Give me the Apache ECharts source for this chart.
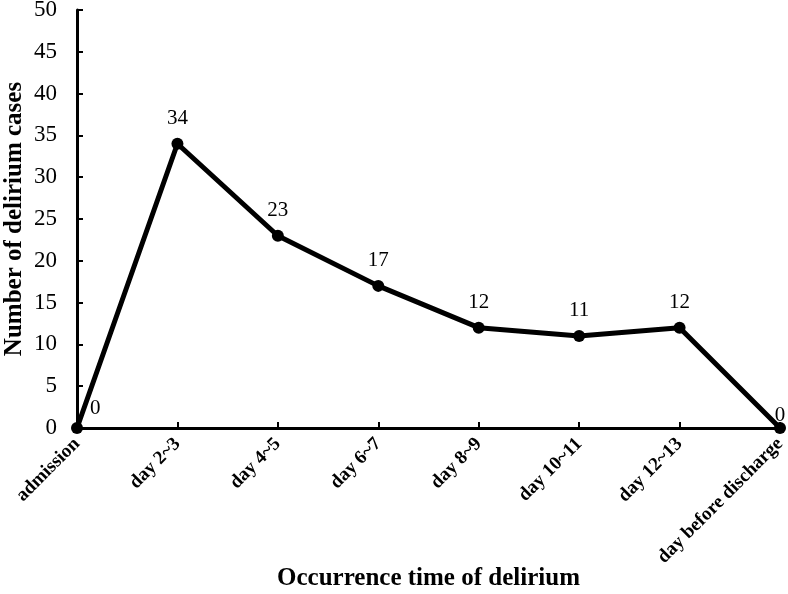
<!DOCTYPE html>
<html><head><meta charset="utf-8">
<script src="https://cdn.jsdelivr.net/npm/echarts@6/dist/echarts.min.js"></script>
<style>html,body{margin:0;padding:0;background:#fff}#c{width:788px;height:594px}</style>
</head><body><div id="c"></div>
<script>
const categories = ['admission','day 2~3','day 4~5','day 6~7','day 8~9','day 10~11','day 12~13','day before discharge'];
const cases = [0,34,23,17,12,11,12,0];
const yTicks = {min:0, max:50, interval:5};
const FONT = '"Liberation Serif","Times New Roman",serif';

const data = cases.map((v,i)=>{
  const d = {value:v};
  if (i===0) d.label = {position:'right', offset:[-2,-20]};
  if (i===cases.length-1) d.label = {offset:[0,13]};
  return d;
});

const chart = echarts.init(document.getElementById('c'));
chart.setOption({
  animation:false,
  backgroundColor:'#fff',
  grid:{left:77,right:8,top:10,bottom:166,containLabel:false,outerBoundsMode:'none'},
  xAxis:{
    type:'category', data:categories, boundaryGap:false,
    name:'Occurrence time of delirium', nameLocation:'middle', nameGap:138, nameMoveOverlap:false,
    nameTextStyle:{fontFamily:FONT,fontWeight:'bold',fontSize:25,color:'#000'},
    axisLine:{lineStyle:{color:'#000',width:3}},
    axisTick:{inside:true,length:6,lineStyle:{color:'#000',width:2}},
    axisLabel:{rotate:45,fontFamily:FONT,fontWeight:'bold',fontSize:19,color:'#000',margin:13,interval:0}
  },
  yAxis:{
    type:'value', min:yTicks.min, max:yTicks.max, interval:yTicks.interval,
    name:'Number of delirium cases', nameLocation:'middle', nameGap:50, nameRotate:90, nameMoveOverlap:false,
    nameTextStyle:{fontFamily:FONT,fontWeight:'bold',fontSize:25,color:'#000'},
    axisLine:{show:true,lineStyle:{color:'#000',width:3}},
    axisTick:{show:true,inside:true,length:6,lineStyle:{color:'#000',width:2}},
    splitLine:{show:false},
    axisLabel:{fontFamily:FONT,fontSize:23,color:'#000',margin:20}
  },
  series:[{
    type:'line', data:data, symbol:'circle', symbolSize:12,
    lineStyle:{color:'#000',width:5}, itemStyle:{color:'#000'},
    label:{show:true,position:'top',distance:9,fontFamily:FONT,fontSize:21,color:'#000'}
  }]
});
</script></body></html>
